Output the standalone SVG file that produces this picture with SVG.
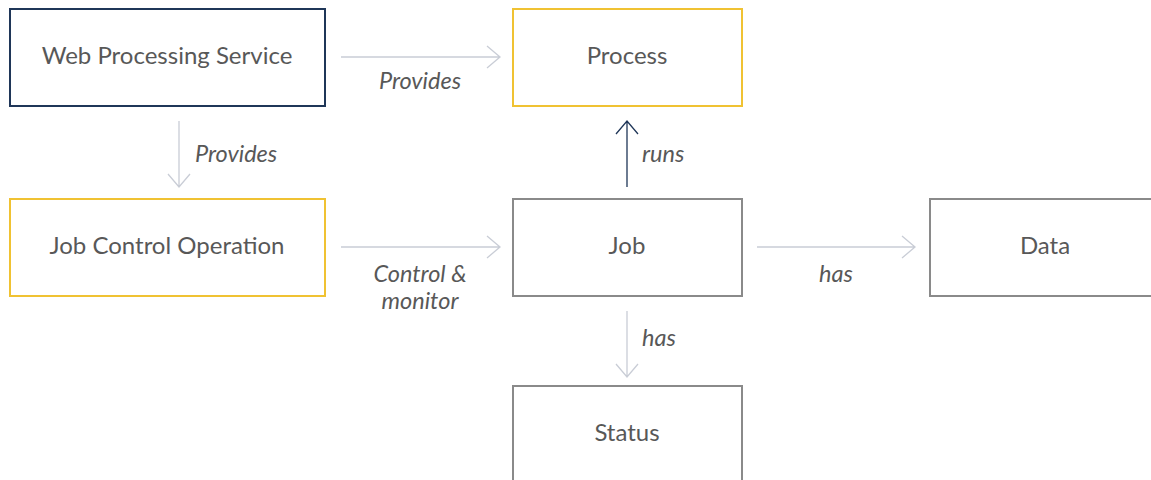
<svg xmlns="http://www.w3.org/2000/svg" width="1151" height="480" viewBox="0 0 1151 480">
<style>
.box{fill:#fff;stroke-width:2}
.navy{stroke:#1f3658}
.yel{stroke:#f0c232}
.gray{stroke:#8a8a8a}
.lbl{font-family:Lato,"Open Sans",sans-serif;font-size:24px;fill:#585858;text-anchor:middle}
.el{font-family:Lato,"Open Sans",sans-serif;font-size:23.5px;font-style:italic;fill:#585858}
.c{fill:none;stroke:#c9cdd6;stroke-width:1.3}
.cn{fill:none;stroke:#1f3658;stroke-width:1.3}
</style>
<rect width="1151" height="480" fill="#fff"/>
<g id="wps"><rect class="box navy" x="10" y="9" width="315" height="97"/><text class="lbl" x="167" y="64">Web Processing Service</text></g>
<g id="process"><rect class="box yel" x="513" y="9" width="229" height="97"/><text class="lbl" x="627" y="64">Process</text></g>
<g id="jco"><rect class="box yel" x="10" y="199" width="315" height="97"/><text class="lbl" x="167" y="254">Job Control Operation</text></g>
<g id="job"><rect class="box gray" x="513" y="199" width="229" height="97"/><text class="lbl" x="627" y="254">Job</text></g>
<g id="data"><rect class="box gray" x="930" y="199" width="230" height="97"/><text class="lbl" x="1045" y="254">Data</text></g>
<g id="status"><rect class="box gray" x="513" y="386" width="229" height="100"/><text class="lbl" x="627" y="441">Status</text></g>
<g id="connectors">
<path class="c" d="M341 57H500M487 46L500 57L487 68"/>
<text class="el" x="420" y="89" text-anchor="middle">Provides</text>
<path class="c" d="M179 121V187M168 174L179 187L190 174"/>
<text class="el" x="195" y="162">Provides</text>
<path class="c" d="M341 247H500M487 236L500 247L487 258"/>
<text class="el" x="420" y="282" text-anchor="middle">Control &amp;</text>
<text class="el" x="420" y="309" text-anchor="middle">monitor</text>
<path class="cn" d="M627 187V121M616 134L627 121L638 134"/>
<text class="el" x="642" y="162">runs</text>
<path class="c" d="M757 247H915M902 236L915 247L902 258"/>
<text class="el" x="836" y="282" text-anchor="middle">has</text>
<path class="c" d="M627 311V377M616 364L627 377L638 364"/>
<text class="el" x="642" y="346">has</text>
</g>
</svg>
